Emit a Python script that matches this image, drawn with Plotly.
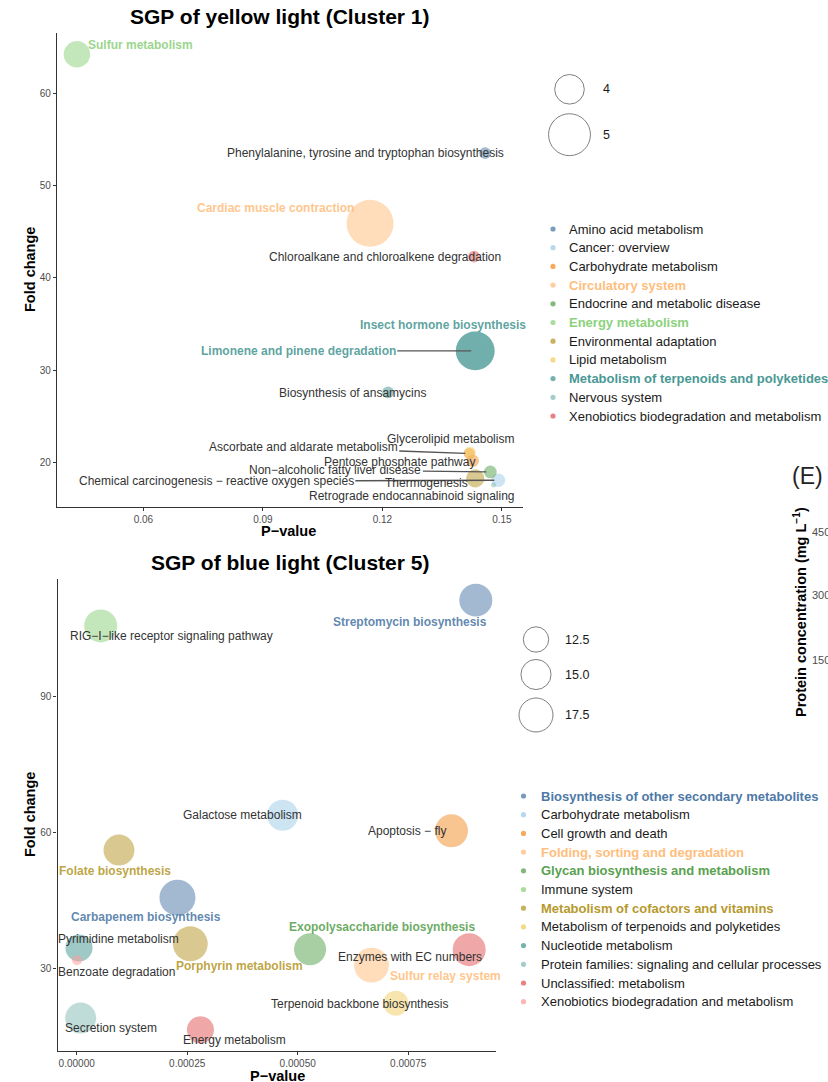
import numpy as np
import plotly.graph_objects as go

W, H = 828, 1082
FONT = "Liberation Sans, Arial, Helvetica, sans-serif"

PALETTE = ["#4E79A7", "#A0CBE8", "#F28E2B", "#FFBE7D", "#59A14F", "#8CD17D",
           "#B6992D", "#F1CE63", "#499894", "#86BCB6", "#E15759", "#FF9D9A"]

# ---------------- data: SGP of yellow light (Cluster 1) ----------------
y_categories = ["Amino acid metabolism", "Cancer: overview", "Carbohydrate metabolism",
                "Circulatory system", "Endocrine and metabolic disease", "Energy metabolism",
                "Environmental adaptation", "Lipid metabolism",
                "Metabolism of terpenoids and polyketides", "Nervous system",
                "Xenobiotics biodegradation and metabolism"]
y_bold_categories = ["Circulatory system", "Energy metabolism",
                     "Metabolism of terpenoids and polyketides"]
y_pathways = ["Phenylalanine, tyrosine and tryptophan biosynthesis",
              "Chemical carcinogenesis \u2212 reactive oxygen species",
              "Ascorbate and aldarate metabolism",
              "Pentose phosphate pathway",
              "Cardiac muscle contraction",
              "Non\u2212alcoholic fatty liver disease",
              "Sulfur metabolism",
              "Thermogenesis",
              "Glycerolipid metabolism",
              "Insect hormone biosynthesis",
              "Limonene and pinene degradation",
              "Biosynthesis of ansamycins",
              "Retrograde endocannabinoid signaling",
              "Chloroalkane and chloroalkene degradation"]
y_pathway_category = ["Amino acid metabolism", "Cancer: overview", "Carbohydrate metabolism",
                      "Carbohydrate metabolism", "Circulatory system",
                      "Endocrine and metabolic disease", "Energy metabolism",
                      "Environmental adaptation", "Lipid metabolism",
                      "Metabolism of terpenoids and polyketides",
                      "Metabolism of terpenoids and polyketides",
                      "Metabolism of terpenoids and polyketides",
                      "Nervous system", "Xenobiotics biodegradation and metabolism"]
y_pvalue = [0.1458, 0.1491, 0.1418, 0.1427, 0.1169, 0.1471, 0.0433,
            0.1433, 0.1420, 0.1433, 0.1433, 0.1214, 0.1479, 0.1430]
y_fold_change = [53.5, 18.1, 21.0, 20.2, 45.9, 19.0, 64.2,
                 18.3, 21.1, 32.1, 32.1, 27.6, 17.6, 42.3]
y_size = [3.26, 3.30, 3.25, 3.27, 5.53, 3.28, 3.81,
          3.43, 3.26, 4.71, 4.71, 3.26, 3.20, 3.26]
y_bold_pathways = ["Cardiac muscle contraction", "Sulfur metabolism",
                   "Insect hormone biosynthesis", "Limonene and pinene degradation"]
y_size_breaks = [4, 5]
y_size_labels = ["4", "5"]

# ---------------- data: SGP of blue light (Cluster 5) ----------------
b_categories = ["Biosynthesis of other secondary metabolites", "Carbohydrate metabolism",
                "Cell growth and death", "Folding, sorting and degradation",
                "Glycan biosynthesis and metabolism", "Immune system",
                "Metabolism of cofactors and vitamins",
                "Metabolism of terpenoids and polyketides", "Nucleotide metabolism",
                "Protein families: signaling and cellular processes",
                "Unclassified: metabolism", "Xenobiotics biodegradation and metabolism"]
b_bold_categories = ["Biosynthesis of other secondary metabolites",
                     "Folding, sorting and degradation",
                     "Glycan biosynthesis and metabolism",
                     "Metabolism of cofactors and vitamins"]
b_pathways = ["Streptomycin biosynthesis", "Carbapenem biosynthesis", "Galactose metabolism",
              "Apoptosis \u2212 fly", "Sulfur relay system", "Exopolysaccharide biosynthesis",
              "RIG\u2212I\u2212like receptor signaling pathway", "Folate biosynthesis",
              "Porphyrin metabolism", "Terpenoid backbone biosynthesis",
              "Pyrimidine metabolism", "Secretion system", "Enzymes with EC numbers",
              "Energy metabolism", "Benzoate degradation"]
b_pathway_category = ["Biosynthesis of other secondary metabolites",
                      "Biosynthesis of other secondary metabolites",
                      "Carbohydrate metabolism", "Cell growth and death",
                      "Folding, sorting and degradation",
                      "Glycan biosynthesis and metabolism", "Immune system",
                      "Metabolism of cofactors and vitamins",
                      "Metabolism of cofactors and vitamins",
                      "Metabolism of terpenoids and polyketides", "Nucleotide metabolism",
                      "Protein families: signaling and cellular processes",
                      "Unclassified: metabolism", "Unclassified: metabolism",
                      "Xenobiotics biodegradation and metabolism"]
b_pvalue = [0.000903, 0.000228, 0.000466, 0.000848, 0.000667, 0.000528, 0.0000543,
            0.0000957, 0.000257, 0.000722, 0.0000052, 0.000009, 0.000888, 0.000280,
            0.0000007]
b_fold_change = [111.3, 45.6, 63.8, 60.35, 30.7, 34.2, 105.6,
                 56.1, 35.4, 22.3, 34.5, 19.0, 34.1, 16.4, 31.8]
b_size = [16.8, 19.0, 15.5, 16.8, 18.2, 16.2, 16.8,
          15.5, 18.2, 12.3, 13.3, 15.5, 16.8, 13.3, 9.0]
b_bold_pathways = ["Streptomycin biosynthesis", "Carbapenem biosynthesis",
                   "Sulfur relay system", "Exopolysaccharide biosynthesis",
                   "Folate biosynthesis", "Porphyrin metabolism"]
b_size_breaks = [12.5, 15.0, 17.5]
b_size_labels = ["12.5", "15.0", "17.5"]

# ---------------- styling (label offsets in px: dx, dy-up, leader line) ----------------
y_label_style = {
    "Phenylalanine, tyrosine and tryptophan biosynthesis": (-120, 0, False),
    "Chemical carcinogenesis \u2212 reactive oxygen species": (-282, -1, True),
    "Ascorbate and aldarate metabolism": (-166, 6, True),
    "Pentose phosphate pathway": (-73, -1, False),
    "Cardiac muscle contraction": (-95, 15, False),
    "Non\u2212alcoholic fatty liver disease": (-155, 2, True),
    "Sulfur metabolism": (64, 9, False),
    "Thermogenesis": (-49, -5, False),
    "Glycerolipid metabolism": (-20, 14, False),
    "Insect hormone biosynthesis": (-32, 26, False),
    "Limonene and pinene degradation": (-177, 0, True),
    "Biosynthesis of ansamycins": (-35, -1, False),
    "Retrograde endocannabinoid signaling": (-82, -11, False),
    "Chloroalkane and chloroalkene degradation": (-89, 0, False),
}
b_label_style = {
    "Streptomycin biosynthesis": (-66, -22, False),
    "Carbapenem biosynthesis": (-31, -19, False),
    "Galactose metabolism": (-40, 0, False),
    "Apoptosis \u2212 fly": (-45, 0, False),
    "Sulfur relay system": (74, -11, False),
    "Exopolysaccharide biosynthesis": (72, 22, False),
    "RIG\u2212I\u2212like receptor signaling pathway": (71, -10, False),
    "Folate biosynthesis": (-4, -21, False),
    "Porphyrin metabolism": (49, -22, False),
    "Terpenoid backbone biosynthesis": (-36, -1, False),
    "Pyrimidine metabolism": (40, 9, False),
    "Secretion system": (30, -10, False),
    "Enzymes with EC numbers": (-59, -7, False),
    "Energy metabolism": (34, -10, False),
    "Benzoate degradation": (40, -12, False),
}

ALPHA = 0.75
LABEL_SIZE = 12
LEGEND_SIZE = 13


def rgba(hexc, a):
    h = hexc.lstrip("#")
    r, g, b = int(h[0:2], 16), int(h[2:4], 16), int(h[4:6], 16)
    return f"rgba({r},{g},{b},{a})"


def px(x):
    return x / W


def py(y):
    return 1 - y / H


def make_size_scale(values, dmin, dmax):
    vmin, vmax = min(values), max(values)

    def f(v):
        v = np.asarray(v, dtype=float)
        return dmin + (dmax - dmin) * np.sqrt(np.clip((v - vmin) / (vmax - vmin), 0, 1))
    return f


fig = go.Figure()
annotations = []
shapes = []


def add_panel(categories, pathways, cats, pvals, fcs, sizes, bold_paths,
              label_style, size_fn, xa, ya):
    cmap = {c: PALETTE[i] for i, c in enumerate(categories)}
    diam = size_fn(sizes)
    for c in categories:
        idx = [i for i, cc in enumerate(cats) if cc == c]
        if not idx:
            continue
        fig.add_trace(go.Scatter(
            x=[pvals[i] for i in idx], y=[fcs[i] for i in idx],
            mode="markers", xaxis=xa, yaxis=ya, showlegend=False,
            text=[pathways[i] for i in idx], hoverinfo="text+x+y",
            marker=dict(size=[float(diam[i]) for i in idx], color=rgba(cmap[c], ALPHA),
                        line=dict(width=0))))
    for i, p in enumerate(pathways):
        dx, dy, line = label_style[p]
        bold = p in bold_paths
        col = rgba(cmap[cats[i]], 0.9) if bold else "#333333"
        txt = f"<b>{p}</b>" if bold else p
        a = dict(x=pvals[i], y=fcs[i], xref=xa, yref=ya, text=txt,
                 font=dict(family=FONT, size=LABEL_SIZE, color=col))
        if line:
            a.update(showarrow=True, ax=dx, ay=-dy, arrowhead=0, arrowwidth=1.4,
                     arrowcolor="#555555", standoff=4)
        else:
            a.update(showarrow=False, xshift=dx, yshift=dy)
        annotations.append(a)


def add_color_legend(categories, bold_cats, x_dot, x_text, y_first, step):
    for i, c in enumerate(categories):
        yy = y_first + i * step
        shapes.append(dict(type="circle", xref="paper", yref="paper",
                           xsizemode="pixel", ysizemode="pixel",
                           xanchor=px(x_dot), yanchor=py(yy),
                           x0=-2.6, x1=2.6, y0=-2.6, y1=2.6,
                           fillcolor=rgba(PALETTE[i], ALPHA), line=dict(width=0)))
        bold = c in bold_cats
        txt = f"<b>{c}</b>" if bold else c
        col = PALETTE[i] if bold else "#1a1a1a"
        annotations.append(dict(x=px(x_text), y=py(yy), xref="paper", yref="paper",
                                text=txt, showarrow=False, xanchor="left", yanchor="middle",
                                font=dict(family=FONT, size=LEGEND_SIZE, color=col)))


def add_size_legend(breaks, labels, size_fn, x_c, x_text, ys):
    d = size_fn(breaks)
    for lab, dd, yy in zip(labels, d, ys):
        r = float(dd) / 2
        shapes.append(dict(type="circle", xref="paper", yref="paper",
                           xsizemode="pixel", ysizemode="pixel",
                           xanchor=px(x_c), yanchor=py(yy),
                           x0=-r, x1=r, y0=-r, y1=r,
                           fillcolor="white", line=dict(width=1, color="#7f7f7f")))
        annotations.append(dict(x=px(x_text), y=py(yy), xref="paper", yref="paper",
                                text=lab, showarrow=False, xanchor="left", yanchor="middle",
                                font=dict(family=FONT, size=12.5, color="#1a1a1a")))


y_sfn = make_size_scale(y_size, 5, 47)
b_sfn = make_size_scale(b_size, 10, 36)

add_panel(y_categories, y_pathways, y_pathway_category, y_pvalue,
          y_fold_change, y_size, y_bold_pathways, y_label_style, y_sfn, "x", "y")
add_panel(b_categories, b_pathways, b_pathway_category, b_pvalue,
          b_fold_change, b_size, b_bold_pathways, b_label_style, b_sfn, "x2", "y2")

add_color_legend(y_categories, y_bold_categories, 553, 567, 229, 18.7)
add_color_legend(b_categories, b_bold_categories, 523.5, 539, 796, 18.7)
add_size_legend(y_size_breaks, y_size_labels, y_sfn, 569.5, 601, [89.3, 134.7])
add_size_legend(b_size_breaks, b_size_labels, b_sfn, 536, 563, [639.5, 674.5, 715])

# titles & axis titles
for txt, x, y, size, ang in [
    ("SGP of yellow light (Cluster 1)", 280, 17, 21, 0),
    ("SGP of blue light (Cluster 5)", 290, 562, 21, 0),
    ("P\u2212value", 288, 531, 14.5, 0),
    ("P\u2212value", 277, 1076, 14.5, 0),
    ("Fold change", 30, 270, 14.5, -90),
    ("Fold change", 30, 815, 14.5, -90),
]:
    annotations.append(dict(x=px(x), y=py(y), xref="paper", yref="paper",
                            text=f"<b>{txt}</b>", showarrow=False, textangle=ang,
                            xanchor="center", yanchor="middle",
                            font=dict(family=FONT, size=size, color="black")))

# fragment of the neighbouring panel (E) at the right edge
annotations.append(dict(x=px(790), y=py(476), xref="paper", yref="paper", text="(E)",
                        showarrow=False, xanchor="left", yanchor="middle",
                        font=dict(family=FONT, size=23, color="#222222")))
annotations.append(dict(x=px(800), y=py(612), xref="paper", yref="paper",
                        text="<b>Protein concentration (mg L<sup>\u22121</sup>)</b>",
                        showarrow=False, textangle=-90, xanchor="center", yanchor="middle",
                        font=dict(family=FONT, size=14.5, color="black")))
for lab, yy in [("450", 532), ("300", 595), ("150", 660)]:
    annotations.append(dict(x=px(810), y=py(yy), xref="paper", yref="paper", text=lab,
                            showarrow=False, xanchor="left", yanchor="middle",
                            font=dict(family=FONT, size=11, color="#4d4d4d")))

axis_common = dict(showline=True, linecolor="#333333", linewidth=1.3, ticks="outside",
                   ticklen=3, tickwidth=1, tickcolor="#333333", showgrid=False,
                   zeroline=False, tickfont=dict(family=FONT, size=10, color="#4d4d4d"))

fig.update_layout(
    width=W, height=H, margin=dict(l=0, r=0, t=0, b=0),
    paper_bgcolor="white", plot_bgcolor="white", showlegend=False,
    font=dict(family=FONT),
    xaxis=dict(domain=[px(57), px(523)], range=[0.0383, 0.1553], anchor="y",
               tickvals=[0.06, 0.09, 0.12, 0.15], ticktext=["0.06", "0.09", "0.12", "0.15"],
               **axis_common),
    yaxis=dict(domain=[py(506.7), py(33)], range=[15.24, 66.5], anchor="x",
               tickvals=[20, 30, 40, 50, 60], **axis_common),
    xaxis2=dict(domain=[px(57.5), px(495.7)], range=[-0.0000434, 0.000948], anchor="y2",
                tickvals=[0, 0.00025, 0.0005, 0.00075],
                ticktext=["0.00000", "0.00025", "0.00050", "0.00075"], **axis_common),
    yaxis2=dict(domain=[py(1050.7), py(579.3)], range=[11.8, 115.9], anchor="x2",
                tickvals=[30, 60, 90], **axis_common),
    annotations=annotations, shapes=shapes,
)

fig.write_html("out.html",
               config={"displayModeBar": False},
               post_script="document.body.style.margin='0px';"
                           "document.body.style.overflow='hidden';")
